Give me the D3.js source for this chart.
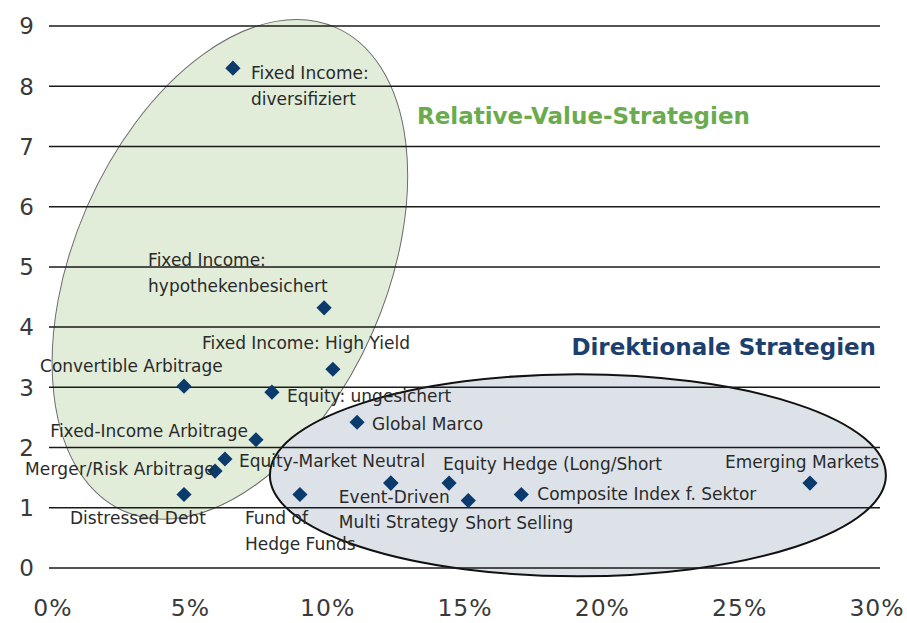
<!DOCTYPE html>
<meta charset="utf-8">
<script src="https://d3js.org/d3.v7.min.js"></script>
<style>
  body { margin: 0; background: #fff; }
</style>
<div id="chart"></div>
<script>
	// Data
	var strategies = ["Fixed Income: diversifiziert", "Fixed Income: hypothekenbesichert", "Fixed Income: High Yield",
		"Convertible Arbitrage", "Equity: ungesichert", "Global Marco", "Fixed-Income Arbitrage",
		"Equity-Market Neutral", "Merger/Risk Arbitrage", "Distressed Debt", "Fund of Hedge Funds",
		"Event-Driven", "Multi Strategy", "Equity Hedge (Long/Short", "Short Selling",
		"Composite Index f. Sektor", "Emerging Markets"];
	var xValues = [6.55, 9.87, 10.19, 4.77, 7.97, 11.07, 7.39, 6.26, 5.90, 4.77, 8.99, 12.30, 12.30, 14.42, 15.12, 17.05, 27.56];
	var yValues = [8.30, 4.32, 3.30, 3.02, 2.92, 2.42, 2.13, 1.81, 1.61, 1.22, 1.22, 1.41, 1.41, 1.41, 1.12, 1.22, 1.41];
	var xTicks = [0, 5, 10, 15, 20, 25, 30];
	var yTicks = [0, 1, 2, 3, 4, 5, 6, 7, 8, 9];
	var groupNames = ["Relative-Value-Strategien", "Direktionale Strategien"];

	// label layout: lines, offset from point (px), anchor
	var labelPos = {
		"Fixed Income: diversifiziert": {lines: ["Fixed Income:", "diversifiziert"], dx: 18, dy: 5, anchor: "start"},
		"Fixed Income: hypothekenbesichert": {lines: ["Fixed Income:", "hypothekenbesichert"], dx: -176, dy: -48, anchor: "start"},
		"Fixed Income: High Yield": {lines: ["Fixed Income: High Yield"], dx: -131, dy: -26, anchor: "start"},
		"Convertible Arbitrage": {lines: ["Convertible Arbitrage"], dx: -144, dy: -20, anchor: "start"},
		"Equity: ungesichert": {lines: ["Equity: ungesichert"], dx: 15, dy: 4, anchor: "start"},
		"Global Marco": {lines: ["Global Marco"], dx: 15, dy: 2, anchor: "start"},
		"Fixed-Income Arbitrage": {lines: ["Fixed-Income Arbitrage"], dx: -8, dy: -9, anchor: "end"},
		"Equity-Market Neutral": {lines: ["Equity-Market Neutral"], dx: 14, dy: 2, anchor: "start"},
		"Merger/Risk Arbitrage": {lines: ["Merger/Risk Arbitrage"], dx: 0, dy: -2, anchor: "end", spacing: "0.2px"},
		"Distressed Debt": {lines: ["Distressed Debt"], dx: -114, dy: 23, anchor: "start"},
		"Fund of Hedge Funds": {lines: ["Fund of", "Hedge Funds"], dx: -55, dy: 23, anchor: "start"},
		"Event-Driven": {lines: ["Event-Driven"], dx: -52, dy: 14, anchor: "start"},
		"Multi Strategy": {lines: ["Multi Strategy"], dx: -52, dy: 39, anchor: "start"},
		"Equity Hedge (Long/Short": {lines: ["Equity Hedge (Long/Short"], dx: -6, dy: -19, anchor: "start"},
		"Short Selling": {lines: ["Short Selling"], dx: -3, dy: 22, anchor: "start"},
		"Composite Index f. Sektor": {lines: ["Composite Index f. Sektor"], dx: 16, dy: -1, anchor: "start"},
		"Emerging Markets": {lines: ["Emerging Markets"], dx: -85, dy: -21, anchor: "start"}
	};

	var width = 907, height = 623;

	var svg = d3.select("#chart")
		.append("svg")
		.attr("width", width)
		.attr("height", height);

	var x = d3.scaleLinear().domain([0, 30]).range([53, 877]);
	var y = d3.scaleLinear().domain([0, 9]).range([568, 26]);

	// Group ellipses (drawn first, gridlines go over them)
	svg.append("ellipse")
		.attr("transform", "translate(" + x(6.44) + "," + y(4.96) + ") rotate(23.6)")
		.attr("rx", 156)
		.attr("ry", 264)
		.style("fill", "#e1ecd9")
		.style("stroke", "#6b6b6b")
		.style("stroke-width", 1);
	svg.append("ellipse")
		.attr("cx", x(19.11))
		.attr("cy", y(1.54))
		.attr("rx", 308)
		.attr("ry", 101)
		.style("fill", "#dde2e9")
		.style("stroke", "#111")
		.style("stroke-width", 2);

	// Horizontal gridlines
	svg.selectAll(".grid")
		.data(yTicks)
		.enter().append("line")
		.attr("x1", 49)
		.attr("x2", x(30) + 3)
		.attr("y1", d => y(d))
		.attr("y2", d => y(d))
		.style("stroke", "#1a1a1a")
		.style("stroke-width", 1.5);

	// Tick labels
	svg.selectAll(".ytick")
		.data(yTicks)
		.enter().append("text")
		.attr("x", 34)
		.attr("y", d => y(d))
		.attr("dy", "0.36em")
		.attr("text-anchor", "end")
		.style("font-family", "DejaVu Sans")
		.style("font-size", "23px")
		.style("fill", "#3a3a3a")
		.text(d => d);
	svg.selectAll(".xtick")
		.data(xTicks)
		.enter().append("text")
		.attr("x", d => x(d))
		.attr("y", 608)
		.attr("dy", "0.36em")
		.attr("text-anchor", "middle")
		.style("font-family", "DejaVu Sans")
		.style("font-size", "23.5px")
		.style("letter-spacing", "1px")
		.style("fill", "#3a3a3a")
		.text(d => d + "%");

	// Group titles
	svg.append("text")
		.attr("x", 417)
		.attr("y", 116)
		.attr("dy", "0.36em")
		.style("font-family", "DejaVu Sans")
		.style("font-weight", "bold")
		.style("font-size", "23px")
		.style("fill", "#6aab4e")
		.text(groupNames[0]);
	svg.append("text")
		.attr("x", 876)
		.attr("y", 347)
		.attr("dy", "0.36em")
		.attr("text-anchor", "end")
		.style("font-family", "DejaVu Sans")
		.style("font-weight", "bold")
		.style("font-size", "23px")
		.style("fill", "#1c3f6e")
		.text(groupNames[1]);

	// Points
	var data = strategies.map((s, i) => ({name: s, x: xValues[i], y: yValues[i]}));
	svg.selectAll(".pt")
		.data(data)
		.enter().append("path")
		.attr("transform", d => "translate(" + x(d.x) + "," + y(d.y) + ") rotate(45)")
		.attr("d", d3.symbol().type(d3.symbolSquare).size(115))
		.style("fill", "#0b3a6d");

	// Labels
	data.forEach(function(d) {
		var p = labelPos[d.name];
		var t = svg.append("text")
			.attr("text-anchor", p.anchor)
			.style("font-family", "DejaVu Sans")
			.style("font-size", "17px")
			.style("letter-spacing", p.spacing || "0px")
			.style("fill", "#2a2a2a");
		p.lines.forEach(function(line, j) {
			t.append("tspan")
				.attr("x", x(d.x) + p.dx)
				.attr("y", y(d.y) + p.dy + j * 26)
				.attr("dy", "0.36em")
				.text(line);
		});
	});
</script>
